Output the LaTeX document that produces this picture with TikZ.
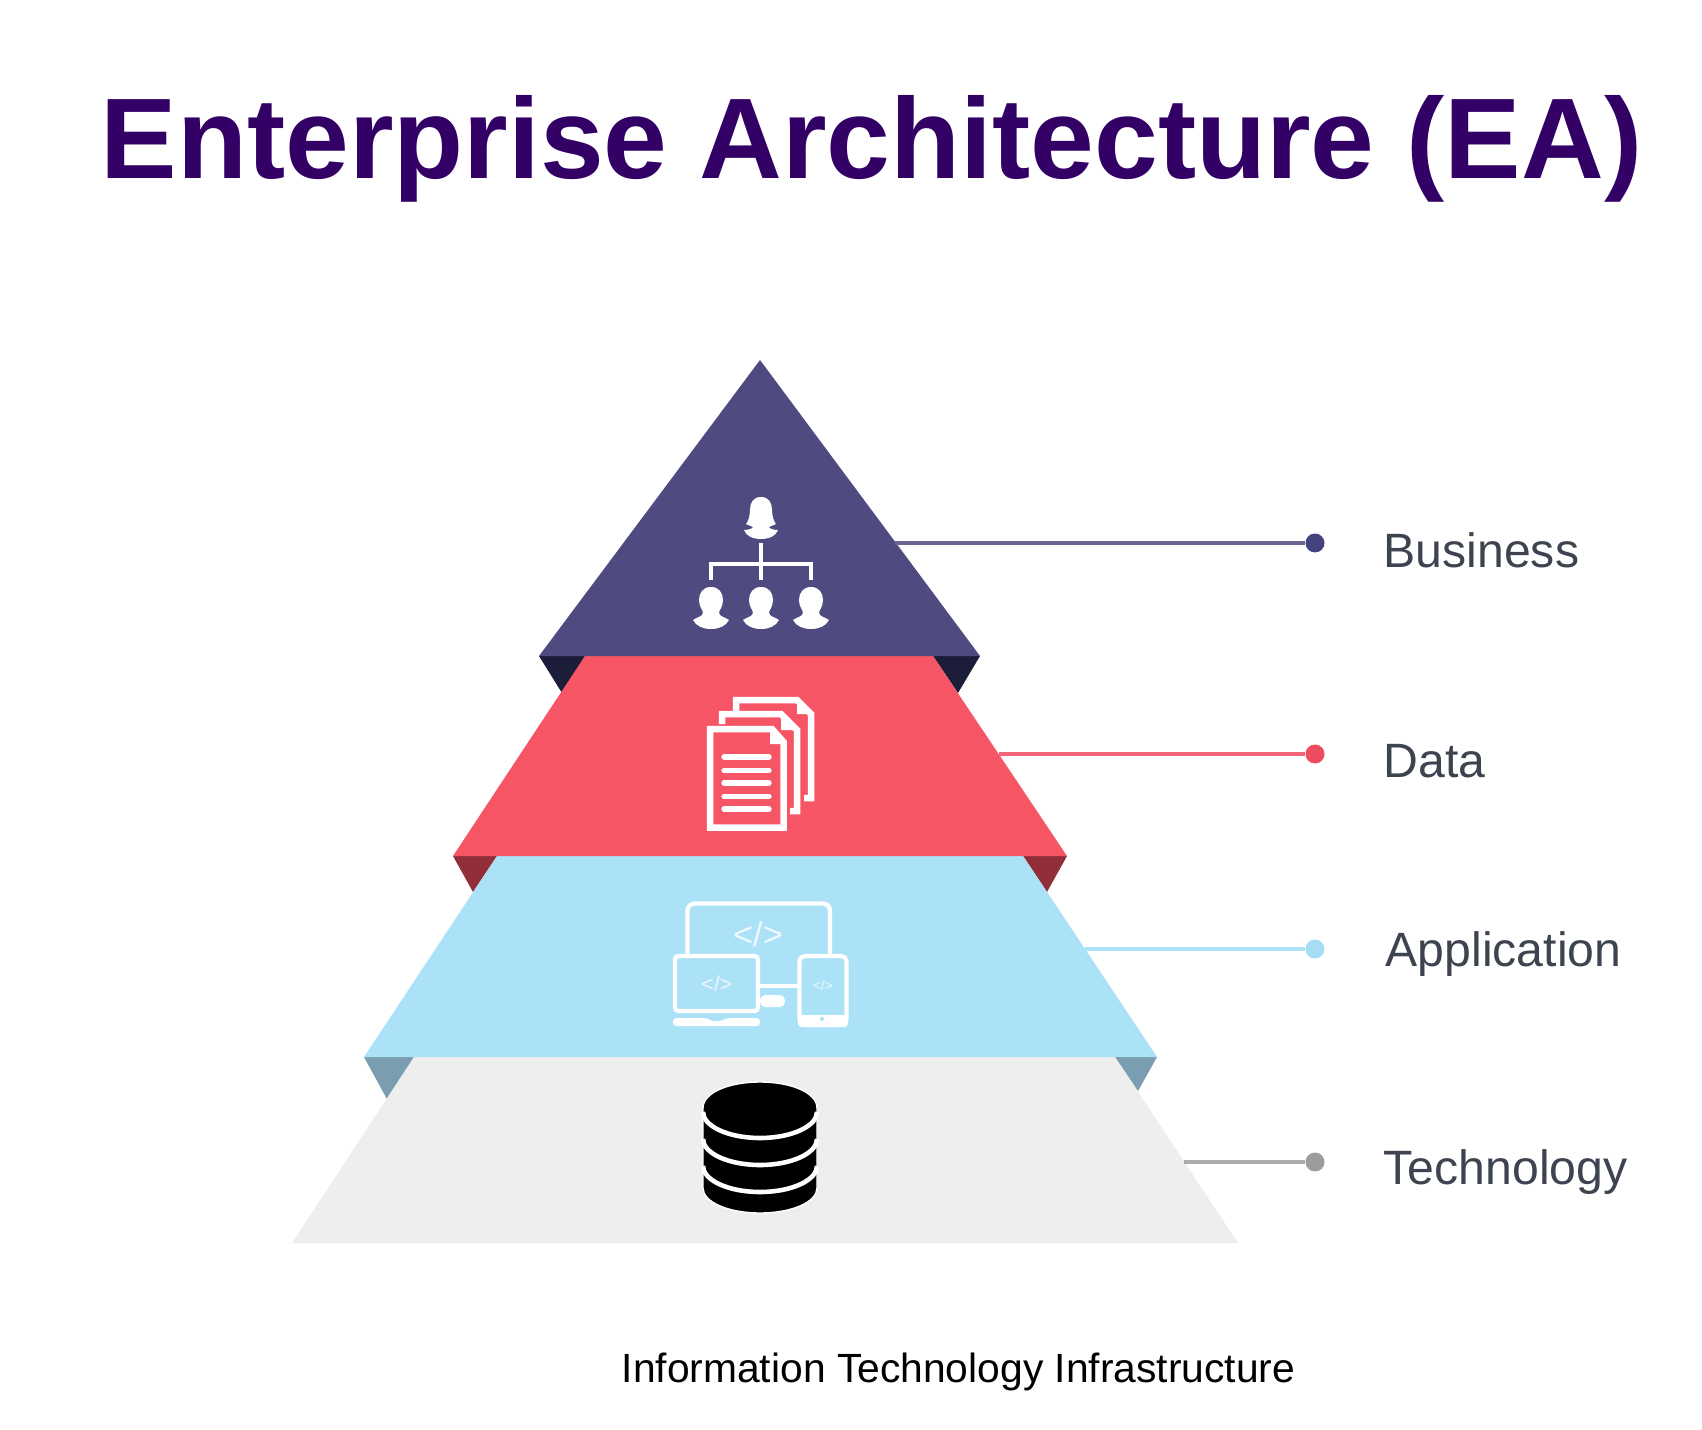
\documentclass[tikz,border=0pt]{standalone}
\usepackage{fontspec}
\setmainfont{Liberation Sans}
\definecolor{titlepurple}{HTML}{330066}
\definecolor{bizfill}{HTML}{4F4B80}
\definecolor{bizfold}{HTML}{1C1D38}
\definecolor{bizdot}{HTML}{45437F}
\definecolor{datafill}{HTML}{F65566}
\definecolor{datafold}{HTML}{922E3A}
\definecolor{datadot}{HTML}{EE4A60}
\definecolor{appfill}{HTML}{ABE2F7}
\definecolor{appfold}{HTML}{7A9DAF}
\definecolor{appdot}{HTML}{A6DDF5}
\definecolor{techfill}{HTML}{EEEEEE}
\definecolor{techdot}{HTML}{9C9C9C}
\definecolor{labelgray}{HTML}{3D4450}
\tikzset{
  leaderline/.style={line width=1.05pt},
  leaderdot/.style={circle, inner sep=0pt, minimum size=5.4pt},
  layerlabel/.style={anchor=base west, inner sep=0pt, text=labelgray, font=\fontsize{13.7}{16}\selectfont},
  iconline/.style={draw=white, line width=1.2pt},
  codetag/.style={inner sep=0pt, text=white!80!appfill}
}
\begin{document}
\begin{tikzpicture}[x=0.01cm, y=-0.01cm]
\useasboundingbox (0, 0) rectangle (1702, 1430);

% Title and caption
\node[anchor=base west, inner sep=0pt, text=titlepurple, font=\fontsize{32.6}{40}\selectfont\bfseries] (title) at (100, 178) {Enterprise Architecture (EA)};
\node[anchor=base west, inner sep=0pt, text=black, font=\fontsize{11.6}{14}\selectfont] (caption) at (621, 1382) {Information Technology Infrastructure};

% Fold triangles under each layer
\fill[bizfold] (539, 656) -- (585, 656) -- (562, 693) -- cycle;
\fill[bizfold] (980, 656) -- (933, 656) -- (958, 693) -- cycle;
\fill[datafold] (453, 856) -- (497, 856) -- (473, 892) -- cycle;
\fill[datafold] (1067, 856) -- (1023, 856) -- (1047, 892) -- cycle;
\fill[appfold] (364, 1057) -- (414, 1057) -- (388, 1101) -- cycle;
\fill[appfold] (1157, 1057) -- (1115, 1057) -- (1138, 1091) -- cycle;

% The four layers
\fill[techfill] (414, 1057) -- (1115, 1057) -- (1238, 1243) -- (292, 1243) -- cycle;
\fill[appfill] (497, 856) -- (1023, 856) -- (1157, 1057) -- (364, 1057) -- cycle;
\fill[datafill] (585, 656) -- (933, 656) -- (1067, 856) -- (453, 856) -- cycle;
\fill[bizfill] (760, 360) -- (980, 656) -- (539, 656) -- cycle;

% Leader lines, dots and labels
\coordinate (edgebiz) at (895, 543);
\coordinate (edgedata) at (999, 754);
\coordinate (edgeapp) at (1085, 949);
\coordinate (edgetech) at (1184, 1162);
\node[leaderdot, fill=bizdot] (dotbiz) at (1315, 543) {};
\node[leaderdot, fill=datadot] (dotdata) at (1315, 754) {};
\node[leaderdot, fill=appdot] (dotapp) at (1315, 949) {};
\node[leaderdot, fill=techdot] (dottech) at (1315, 1162) {};
\draw[leaderline, draw=bizfill!85!white] (edgebiz) -- (dotbiz);
\draw[leaderline, draw=datadot!85!white] (edgedata) -- (dotdata);
\draw[leaderline, draw=appfill] (edgeapp) -- (dotapp);
\draw[leaderline, draw=techdot!85!white] (edgetech) -- (dottech);
\node[layerlabel] (lblbiz) at (1383, 567) {Business};
\node[layerlabel] (lbldata) at (1383, 777) {Data};
\node[layerlabel] (lblapp) at (1385, 966) {Application};
\node[layerlabel] (lbltech) at (1383, 1184) {Technology};

% Business icon: one head over three staff
\fill[white] (761, 497) .. controls (769, 497) and (772, 503) .. (772, 510) .. controls (772, 516) and (774, 522) .. (776, 524) -- (769, 527) .. controls (770, 529) and (774, 530) .. (778, 530) .. controls (776, 536) and (769, 539) .. (761, 539) .. controls (753, 539) and (746, 536) .. (744, 530) .. controls (748, 530) and (752, 529) .. (753, 527) -- (746, 524) .. controls (748, 522) and (750, 516) .. (750, 510) .. controls (750, 503) and (753, 497) .. (761, 497) -- cycle;
\def\staffhead#1{
\fill[white] (#1, 587) .. controls (#1+8, 587) and (#1+12, 593) .. (#1+12, 600) .. controls (#1+12, 607) and (#1+8, 610) .. (#1+8, 613) .. controls (#1+9, 617) and (#1+14, 617) .. (#1+18, 620) .. controls (#1+15, 626) and (#1+8, 629) .. (#1, 629) .. controls (#1-8, 629) and (#1-15, 626) .. (#1-18, 620) .. controls (#1-14, 617) and (#1-9, 617) .. (#1-8, 613) .. controls (#1-8, 610) and (#1-12, 607) .. (#1-12, 600) .. controls (#1-12, 593) and (#1-8, 587) .. (#1, 587) -- cycle;
}
\staffhead{711}
\staffhead{761}
\staffhead{811}
\draw[iconline] (761, 543) -- (761, 580);
\draw[iconline] (711, 580) -- (711, 564) -- (811, 564) -- (811, 580);

% Data icon: stack of three pages
\draw[iconline, line width=1.85pt] (736, 711) -- (736, 700) -- (797, 700) -- (811, 714) -- (811, 798) -- (804, 798);
\draw[iconline, line width=1.85pt] (722, 724) -- (722, 714) -- (781, 714) -- (797, 730) -- (797, 811) -- (790, 811);
\draw[iconline, line width=1.85pt] (710, 729) -- (772, 729) -- (783.5, 742) -- (783.5, 827.5) -- (710, 827.5) -- cycle;
\fill[white] (797, 700) -- (811, 714) -- (797, 714) -- cycle;
\fill[white] (781, 714) -- (797, 730) -- (781, 730) -- cycle;
\fill[white] (770, 729) -- (784, 744) -- (770, 744) -- cycle;
\draw[iconline, line width=1.5pt, line cap=round] (724, 757) -- (769, 757);
\draw[iconline, line width=1.5pt, line cap=round] (724, 770.5) -- (769, 770.5);
\draw[iconline, line width=1.5pt, line cap=round] (724, 783) -- (769, 783);
\draw[iconline, line width=1.5pt, line cap=round] (724, 796.5) -- (769, 796.5);
\draw[iconline, line width=1.5pt, line cap=round] (724, 809) -- (769, 809);

% Application icon: monitor, laptop and tablet
\draw[iconline, rounded corners=2pt] (687.5, 954) -- (687.5, 903.5) -- (830, 903.5) -- (830, 954);
\draw[iconline, rounded corners=1pt] (675, 956) rectangle (758, 1011);
\fill[white, rounded corners=1pt] (673, 1018) -- (707, 1018) -- (710, 1021) -- (723, 1021) -- (726, 1018) -- (760, 1018) -- (760, 1026) -- (673, 1026) -- cycle;
\draw[iconline, rounded corners=1.5pt] (799.5, 956) rectangle (846.5, 1025);
\fill[white, rounded corners=1pt] (798, 1015) rectangle (848, 1027);
\fill[appfill] (822, 1019) circle (2);
\draw[iconline] (760, 986) -- (798, 986);
\fill[white, rounded corners=1.5pt] (760, 995) rectangle (785, 1007);
\node[codetag, font=\fontsize{9.8}{12}\selectfont] (codemon) at (758, 934) {</>};
\node[codetag, font=\fontsize{6.1}{8}\selectfont] (codelap) at (717, 984) {</>};
\node[codetag, font=\fontsize{3.9}{5}\selectfont] (codetab) at (823, 986) {</>};

% Technology icon: database cylinder
\fill[black, draw=white, line width=0.4pt] (703, 1108) .. controls (703, 1093) and (728, 1082) .. (760, 1082) .. controls (792, 1082) and (817, 1093) .. (817, 1108) -- (817, 1188) .. controls (817, 1202) and (792, 1213) .. (760, 1213) .. controls (728, 1213) and (703, 1202) .. (703, 1188) -- cycle;
\foreach \c in {1112, 1139, 1166} {
\draw[draw=white, line width=1.3pt] (703, \c) .. controls (703, \c+14) and (728, \c+26) .. (760, \c+26) .. controls (792, \c+26) and (817, \c+14) .. (817, \c);
}
\end{tikzpicture}
\end{document}
